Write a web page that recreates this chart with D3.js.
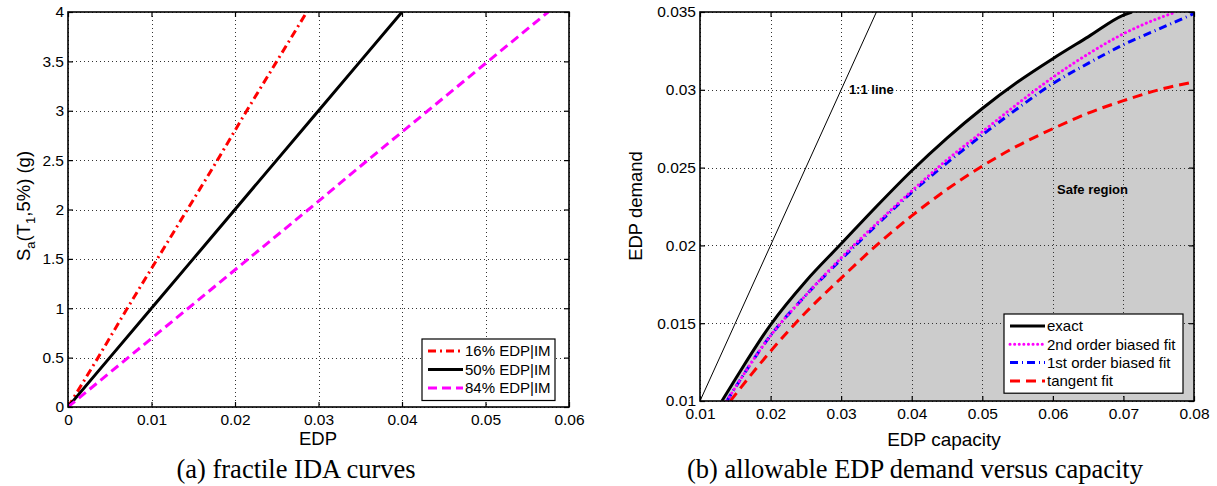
<!DOCTYPE html>
<html>
<head>
<meta charset="utf-8">
<script src="https://cdn.jsdelivr.net/npm/d3@7"></script>
<style>
body { margin: 0; background: #fff; }
text { font-family: "Liberation Sans", Arial, sans-serif; fill: #000; }
</style>
</head>
<body>
<script>
const width = 1217, height = 486;

// (a) fractile IDA curves: Sa(T1,5%) levels and the EDP of each fractile
const idaSa = [0, 0.5, 1, 1.5, 2, 2.5, 3, 3.5, 4];
const edp16 = [0, 0.0036, 0.0071, 0.0107, 0.0143, 0.0179, 0.0214, 0.0250, 0.0286];
const edp50 = [0, 0.005, 0.010, 0.015, 0.020, 0.025, 0.030, 0.035, 0.040];
const edp84 = [0, 0.0072, 0.0144, 0.0216, 0.0288, 0.0359, 0.0431, 0.0503, 0.0575];
const idaNames = ["16% EDP|IM", "50% EDP|IM", "84% EDP|IM"];
const aXTicks = [0, 0.01, 0.02, 0.03, 0.04, 0.05, 0.06];
const aXLabels = ["0", "0.01", "0.02", "0.03", "0.04", "0.05", "0.06"];
const aYTicks = [0, 0.5, 1, 1.5, 2, 2.5, 3, 3.5, 4];
const aYLabels = ["0", "0.5", "1", "1.5", "2", "2.5", "3", "3.5", "4"];

// (b) allowable EDP demand versus capacity
const capExact = [0.0131, 0.015, 0.02, 0.025, 0.03, 0.035, 0.04, 0.045, 0.05, 0.055, 0.06, 0.065, 0.07, 0.0712];
const demExact = [0.010, 0.0114, 0.0149, 0.0177, 0.0201, 0.0225, 0.0248, 0.0269, 0.0288, 0.0305, 0.0320, 0.0334, 0.0348, 0.035];
const cap2nd = [0.0138, 0.02, 0.025, 0.03, 0.035, 0.04, 0.045, 0.05, 0.055, 0.06, 0.065, 0.07, 0.075, 0.0775];
const dem2nd = [0.010, 0.0142, 0.0168, 0.0192, 0.0214, 0.0235, 0.0255, 0.0273, 0.0291, 0.0308, 0.0323, 0.0336, 0.0346, 0.035];
const cap1st = [0.0138, 0.02, 0.025, 0.03, 0.035, 0.04, 0.045, 0.05, 0.055, 0.06, 0.065, 0.07, 0.075, 0.08];
const dem1st = [0.010, 0.0142, 0.0168, 0.0191, 0.0213, 0.0234, 0.0253, 0.0271, 0.0288, 0.0304, 0.0317, 0.0329, 0.0339, 0.0349];
const capTan = [0.0143, 0.02, 0.025, 0.03, 0.035, 0.04, 0.045, 0.05, 0.055, 0.06, 0.065, 0.07, 0.075, 0.08];
const demTan = [0.010, 0.0132, 0.0157, 0.0179, 0.0200, 0.0219, 0.0236, 0.0251, 0.0264, 0.0275, 0.0285, 0.0293, 0.0300, 0.0305];
const capUnity = [0.01, 0.035];
const demUnity = [0.01, 0.035];
const fitNames = ["exact", "2nd order biased fit", "1st order biased fit", "tangent fit"];
const bXTicks = [0.01, 0.02, 0.03, 0.04, 0.05, 0.06, 0.07, 0.08];
const bXLabels = ["0.01", "0.02", "0.03", "0.04", "0.05", "0.06", "0.07", "0.08"];
const bYTicks = [0.01, 0.015, 0.02, 0.025, 0.03, 0.035];
const bYLabels = ["0.01", "0.015", "0.02", "0.025", "0.03", "0.035"];

const styles = {
    red_dashdot: {stroke: "#ff0000", width: 3, dash: "8,4,2,4", cap: "butt"},
    black_solid: {stroke: "#000", width: 3, dash: null, cap: "butt"},
    magenta_dash: {stroke: "#ff00ff", width: 3, dash: "9,5", cap: "butt"},
    magenta_dot: {stroke: "#ff00ff", width: 3, dash: "0.1,4.5", cap: "round"},
    blue_dashdot: {stroke: "#0000ff", width: 3, dash: "8,4,1,4", cap: "butt"},
    red_dash: {stroke: "#ff0000", width: 3, dash: "10,6", cap: "butt"},
    thin: {stroke: "#000", width: 1, dash: null, cap: "butt"}
};

const svg = d3.select("body").append("svg")
    .attr("width", width)
    .attr("height", height);

const zip = (xs, ys) => xs.map((v, i) => [v, ys[i]]);

const applyStyle = (sel, s) => sel
    .attr("fill", "none")
    .attr("stroke", s.stroke)
    .attr("stroke-width", s.width)
    .attr("stroke-dasharray", s.dash)
    .attr("stroke-linecap", s.cap);

// axes box with inward ticks and dotted grid, MATLAB style
const panel = (id, box, xDomain, yDomain, xt, xl, yt, yl) => {
    const x = d3.scaleLinear().domain(xDomain).range([box.left, box.right]);
    const y = d3.scaleLinear().domain(yDomain).range([box.bottom, box.top]);
    const g = svg.append("g");

    g.append("clipPath").attr("id", id)
        .append("rect")
        .attr("x", box.left).attr("y", box.top)
        .attr("width", box.right - box.left).attr("height", box.bottom - box.top);

    const under = g.append("g").attr("clip-path", `url(#${id})`);
    const grid = g.append("g")
        .attr("stroke", "#333")
        .attr("stroke-width", 1)
        .attr("stroke-dasharray", "1,3");
    grid.selectAll(".gx").data(xt).join("line")
        .attr("x1", d => Math.round(x(d)) + 0.5).attr("x2", d => Math.round(x(d)) + 0.5)
        .attr("y1", box.top).attr("y2", box.bottom);
    grid.selectAll(".gy").data(yt).join("line")
        .attr("y1", d => Math.round(y(d)) + 0.5).attr("y2", d => Math.round(y(d)) + 0.5)
        .attr("x1", box.left).attr("x2", box.right);
    const plot = g.append("g").attr("clip-path", `url(#${id})`);

    const fmt = labels => (d, i) => labels[i];
    const axes = g.append("g");
    axes.append("g")
        .attr("transform", `translate(0,${box.bottom})`)
        .call(d3.axisBottom(x).tickValues(xt).tickFormat(fmt(xl)).tickSize(-5).tickPadding(7));
    axes.append("g")
        .attr("transform", `translate(0,${box.top})`)
        .call(d3.axisTop(x).tickValues(xt).tickFormat("").tickSize(-5));
    axes.append("g")
        .attr("transform", `translate(${box.left},0)`)
        .call(d3.axisLeft(y).tickValues(yt).tickFormat(fmt(yl)).tickSize(-5).tickPadding(4));
    axes.append("g")
        .attr("transform", `translate(${box.right},0)`)
        .call(d3.axisRight(y).tickValues(yt).tickFormat("").tickSize(-5));
    axes.selectAll(".domain").remove();
    axes.selectAll(".tick line").attr("stroke-width", 1.2);
    axes.selectAll(".tick text")
        .attr("font-size", 15.5)
        .attr("font-family", "Liberation Sans, Arial, sans-serif");

    g.append("rect")
        .attr("x", box.left).attr("y", box.top)
        .attr("width", box.right - box.left).attr("height", box.bottom - box.top)
        .attr("fill", "none")
        .attr("stroke", "#000")
        .attr("stroke-width", 1.6);

    return {x, y, g, under, plot};
};

const legend = (g, lx, ly, lw, rows, rowH, sampleW) => {
    const lg = g.append("g");
    lg.append("rect")
        .attr("x", lx).attr("y", ly)
        .attr("width", lw).attr("height", rows.length * rowH + 6)
        .attr("fill", "#fff").attr("stroke", "#000").attr("stroke-width", 1.2);
    rows.forEach((r, i) => {
        const cy = ly + 12 + i * rowH;
        lg.append("line")
            .attr("x1", lx + 6).attr("x2", lx + 6 + sampleW)
            .attr("y1", cy).attr("y2", cy)
            .call(applyStyle, r.style);
        lg.append("text")
            .attr("x", lx + 8 + sampleW).attr("y", cy)
            .attr("dy", "0.36em")
            .attr("font-size", 15)
            .text(r.name);
    });
};

// ---------- (a) ----------
const A = panel("clipA", {left: 68, right: 569, top: 12, bottom: 407},
    [0, 0.06], [0, 4], aXTicks, aXLabels, aYTicks, aYLabels);

const lineA = d3.line().x(d => A.x(d[0])).y(d => A.y(d[1]));
const idaSeries = [
    {pts: zip(edp16, idaSa), style: styles.red_dashdot},
    {pts: zip(edp50, idaSa), style: styles.black_solid},
    {pts: zip(edp84, idaSa), style: styles.magenta_dash}
];
idaSeries.forEach(s => A.plot.append("path").attr("d", lineA(s.pts)).call(applyStyle, s.style));

legend(A.g, 422, 339, 133, idaSeries.map((s, i) => ({name: idaNames[i], style: s.style})), 18.5, 35);

A.g.append("text")
    .attr("x", 318).attr("y", 445)
    .attr("text-anchor", "middle")
    .attr("font-size", 18.5)
    .text("EDP");

const yLabA = A.g.append("text")
    .attr("transform", "translate(30,206) rotate(-90)")
    .attr("text-anchor", "middle")
    .attr("font-size", 18.5);
yLabA.append("tspan").text("S");
yLabA.append("tspan").attr("dy", 5).attr("font-size", 13).text("a");
yLabA.append("tspan").attr("dy", -5).text("(T");
yLabA.append("tspan").attr("dy", 5).attr("font-size", 13).text("1");
yLabA.append("tspan").attr("dy", -5).text(",5%) (g)");

// ---------- (b) ----------
const B = panel("clipB", {left: 700, right: 1194, top: 12, bottom: 401},
    [0.01, 0.08], [0.01, 0.035], bXTicks, bXLabels, bYTicks, bYLabels);

const lineB = d3.line().x(d => B.x(d[0])).y(d => B.y(d[1])).curve(d3.curveMonotoneX);

// safe region below the exact curve
const safe = zip(capExact, demExact).concat([[0.08, 0.035], [0.08, 0.01]]);
B.under.append("path")
    .attr("d", d3.line().x(d => B.x(d[0])).y(d => B.y(d[1])).curve(d3.curveMonotoneX)(safe) + "Z")
    .attr("fill", "#cccccc");

B.plot.append("path").attr("d", lineB(zip(capUnity, demUnity))).call(applyStyle, styles.thin);

const fitSeries = [
    {pts: zip(capExact, demExact), style: styles.black_solid},
    {pts: zip(cap2nd, dem2nd), style: styles.magenta_dot},
    {pts: zip(cap1st, dem1st), style: styles.blue_dashdot},
    {pts: zip(capTan, demTan), style: styles.red_dash}
];
[3, 2, 1, 0].forEach(i => {
    const s = fitSeries[i];
    B.plot.append("path").attr("d", lineB(s.pts)).call(applyStyle, s.style);
});

B.g.append("text")
    .attr("x", B.x(0.0311)).attr("y", B.y(0.03))
    .attr("dy", "0.36em")
    .attr("font-size", 13).attr("font-weight", "bold")
    .text("1:1 line");
B.g.append("text")
    .attr("x", B.x(0.0606)).attr("y", B.y(0.0236))
    .attr("dy", "0.36em")
    .attr("font-size", 13).attr("font-weight", "bold")
    .text("Safe region");

legend(B.g, 1004, 314, 179, fitSeries.map((s, i) => ({name: fitNames[i], style: s.style})), 18.3, 35);

B.g.append("text")
    .attr("x", 944).attr("y", 446)
    .attr("text-anchor", "middle")
    .attr("font-size", 19)
    .text("EDP capacity");

B.g.append("text")
    .attr("transform", "translate(642,206) rotate(-90)")
    .attr("text-anchor", "middle")
    .attr("font-size", 18.5)
    .text("EDP demand");

// captions
const captions = [{x: 296, text: "(a) fractile IDA curves"}, {x: 915, text: "(b) allowable EDP demand versus capacity"}];
svg.selectAll(".caption").data(captions).join("text")
    .attr("class", "caption")
    .attr("x", d => d.x).attr("y", 478)
    .attr("text-anchor", "middle")
    .style("font-family", "'Liberation Serif', 'Times New Roman', serif")
    .attr("font-size", 26.5)
    .text(d => d.text);
</script>
</body>
</html>
